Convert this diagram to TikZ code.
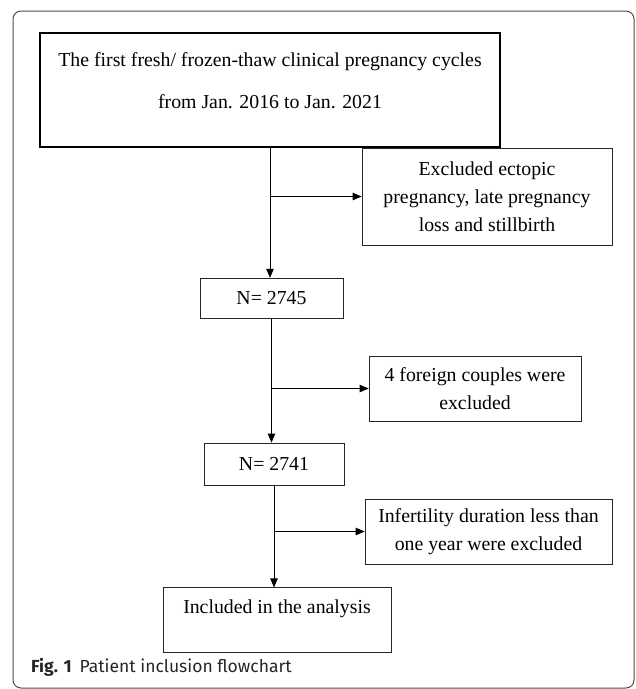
\documentclass[tikz,border=0pt]{standalone}
\usepackage{fontspec}
\setmainfont{Liberation Serif}
\newfontfamily\capfont{Fira Sans}
\usetikzlibrary{arrows.meta,positioning}

\begin{document}
\begin{tikzpicture}[x=1pt,y=-1pt,>={Triangle[length=9pt,width=7.5pt]},node distance=1cm]
  \tikzstyle{box}=[draw=black!85,line width=0.8pt,align=center,inner sep=0pt,font=\fontsize{19.8}{28}\selectfont]
  \tikzstyle{flow}=[line width=0.8pt,black]
  \useasboundingbox (0,0) rectangle (636,689);
  % frame of the figure
  \draw[black!70,line width=1pt,rounded corners=8pt] (13,11) rectangle (634,688);
  \node[box,draw=black,line width=1.6pt,minimum width=460pt,minimum height=114pt,font=\fontsize{19.8}{42}\selectfont] (first) at (270,90)
    {The first fresh/ frozen-thaw clinical pregnancy cycles\\from Jan. 2016 to Jan. 2021\\[-24pt]\mbox{}};
  \node[box,minimum width=143pt,minimum height=40pt,below=130pt of first,xshift=1.5pt] (n2745) {N= 2745};
  \node[box,minimum width=140pt,minimum height=42pt,below=124pt of n2745,xshift=2.5pt] (n2741) {N= 2741};
  \node[box,minimum width=228pt,minimum height=65pt,below=102pt of n2741,xshift=3pt] (incl) {Included in the analysis\\\mbox{}};
  \node[box,minimum width=250pt,minimum height=97pt] (ex1) at (487,196.5) {Excluded ectopic\\pregnancy, late pregnancy\\loss and stillbirth};
  \node[box,minimum width=212pt,minimum height=65pt] (ex2) at (475,388.5) {4 foreign couples were\\excluded};
  \node[box,minimum width=247pt,minimum height=65pt] (ex3) at (488.5,531.5) {Infertility duration less than\\one year were excluded};
  \draw[flow,->] (first.south) -- (first.south |- n2745.north);
  \draw[flow,->] (first.south |- ex1.west) -- (ex1.west);
  \draw[flow,->] (n2745.south) -- (n2745.south |- n2741.north);
  \draw[flow,->] (n2745.south |- ex2.west) -- (ex2.west);
  \draw[flow,->] (n2741.south) -- (n2741.south |- incl.north);
  \draw[flow,->] (n2741.south |- ex3.west) -- (ex3.west);
  \node[anchor=west,inner sep=0pt,text=black!85,font=\capfont\fontsize{17.5}{20}\selectfont] (cap) at (31,667)
    {\textbf{Fig. 1}\hspace{8pt}Patient inclusion flowchart};
\end{tikzpicture}
\end{document}
